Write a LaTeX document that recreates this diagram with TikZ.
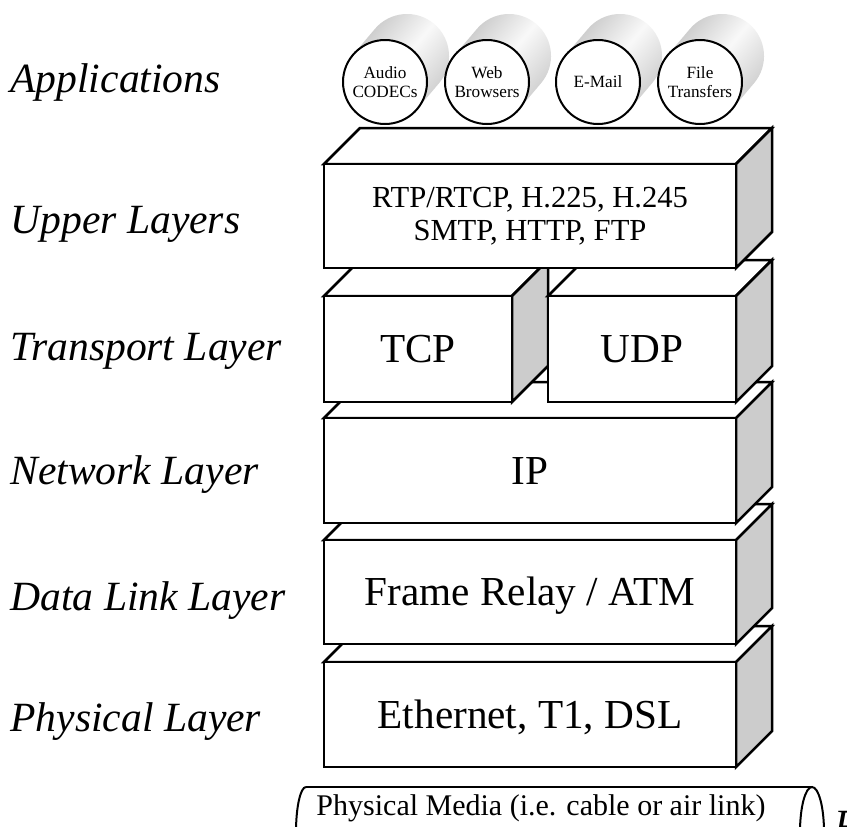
\documentclass[tikz,border=0pt]{standalone}
\usepackage{fontspec}
\setmainfont{Liberation Serif}
\definecolor{sidegray}{RGB}{204,204,204}

% one slab of the stack: front face (a named node), top face and shaded side face
% #1 extra node options, #2 name, #3 left, #4 top, #5 right, #6 bottom, #7 text
\newcommand\slab[7][]{%
  \draw[topface] (#3,#4) -- (#3+36,#4-36) -- (#5+36,#4-36) -- (#5,#4) -- cycle;
  \draw[sideface] (#5,#4) -- (#5+36,#4-36) -- (#5+36,#6-36) -- (#5,#6) -- cycle;
  \node[frontface, minimum width={(#5-#3)*0.5pt}, minimum height={(#6-#4)*0.5pt}, #1]
    (#2) at ({(#3+#5)/2},{(#4+#6)/2}) {#7};
}

% application cylinder seen end-on: shaded body, white end disc with its name
% #1 name, #2 centre x, #3 text
\newcommand\appcyl[3]{%
  \shade[cylbody] (#2+32.1,109.1) -- (#2+54.1,83.1)
     arc[start angle=40.2, end angle=-139.8, radius=42]
     -- (#2-32.1,54.9) -- cycle;
  \node[appdisc] (#1) at (#2,82) {#3};
}

\begin{document}
\begin{tikzpicture}[x=0.5pt, y=-0.5pt,
  edge/.style={line width=1.25pt, line join=miter},
  topface/.style={edge, fill=white},
  sideface/.style={edge, fill=sidegray},
  frontface/.style={edge, draw, fill=white, rectangle, inner sep=0pt, outer sep=0pt,
    align=center, font=\fontsize{20.6}{22}\selectfont},
  onecap/.style={text height=13.6pt, text depth=0pt},
  layername/.style={font=\itshape\fontsize{20.8}{23}\selectfont, anchor=base west, inner sep=0pt},
  cylbody/.style={top color=gray!45, bottom color=gray!40, middle color=gray!5, shading angle=49.8},
  appdisc/.style={circle, draw, line width=1pt, fill=white, minimum size=42pt, inner sep=0pt,
    align=center, font=\fontsize{8.6}{9.6}\selectfont},
  mediaedge/.style={line width=1pt},
]
\useasboundingbox[fill=white] (0,0) rectangle (857,826);

% layer names
\node[layername] (lapp)  at (10,92)  {Applications};
\node[layername] (lup)   at (10,233) {Upper Layers};
\node[layername] (ltr)   at (10,360) {Transport Layer};
\node[layername] (lnet)  at (10,484) {Network Layer};
\node[layername] (ldl)   at (10,610) {Data Link Layer};
\node[layername] (lphy)  at (10,731) {Physical Layer};

% protocol stack, drawn from the bottom up so each slab hides the one below
\slab[onecap]{phy}{324}{662}{736}{767}{Ethernet, T1, DSL}
\slab[onecap]{dl}{324}{540}{736}{644}{Frame Relay / ATM}
\slab[onecap]{ip}{324}{418}{736}{523}{IP}
\slab[onecap]{tcp}{324}{296}{512}{402}{TCP}
\slab[onecap]{udp}{548}{296}{736}{402}{UDP}
\slab[font=\fontsize{15.3}{16.5}\selectfont]{upper}{324}{164}{736}{268}{RTP/RTCP, H.225, H.245\\SMTP, HTTP, FTP}

% applications
\appcyl{audio}{385}{Audio\\CODECs}
\appcyl{web}{487}{Web\\Browsers}
\appcyl{mail}{598}{E-Mail}
\appcyl{file}{700}{File\\Transfers}

% physical media cylinder, cut by the lower edge
\begin{scope}
  \clip (0,0) rectangle (857,826);
  \draw[mediaedge] (306,832) ++(0,-45) coordinate (mtl)
     arc[start angle=-90, end angle=-180, x radius=10, y radius=45];
  \draw[mediaedge] (812,832) ellipse[x radius=12, y radius=45];
  \coordinate (mtr) at (812,787);
  \draw[mediaedge] (mtl) -- (mtr);
  \node[font=\fontsize{15}{18}\selectfont, anchor=base, inner sep=0pt] (media) at (541,815)
    {Physical Media (i.e. cable or air link)};
\end{scope}
% its italic caption, of which only the first stroke falls inside the frame
\begin{scope}
  \clip (0,0) rectangle (846,826);
  \node[layername] (mediaend) at (834,838) {P};
\end{scope}
\end{tikzpicture}
\end{document}
